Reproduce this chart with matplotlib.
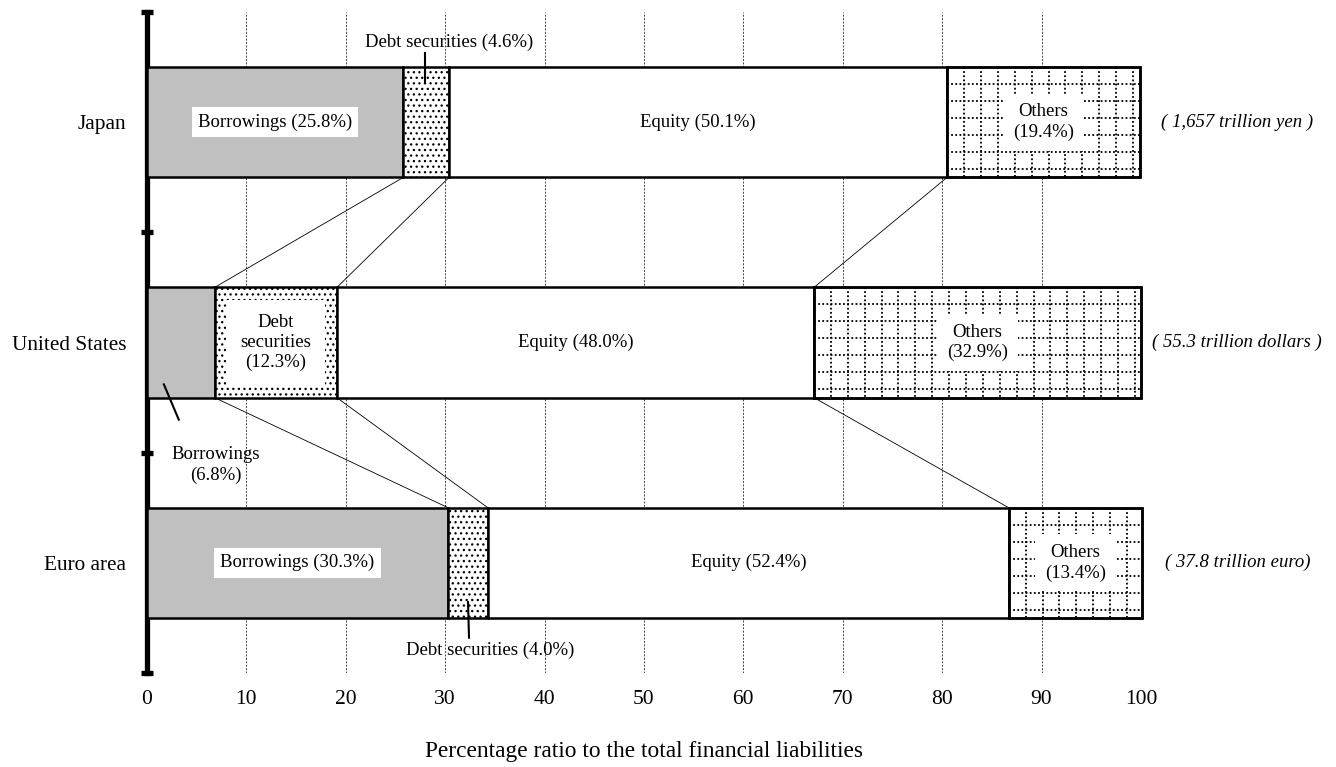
import matplotlib.pyplot as plt
import numpy as np
from matplotlib.patches import Rectangle

plt.rcParams["font.family"] = ["Liberation Serif", "DejaVu Serif"]
plt.rcParams["hatch.linewidth"] = 0.9

countries = ["Japan", "United States", "Euro area"]
borrowings = [25.8, 6.8, 30.3]
debt = [4.6, 12.3, 4.0]
equity = [50.1, 48.0, 52.4]
others = [19.4, 32.9, 13.4]
totals = ["( 1,657 trillion yen )", "( 55.3 trillion dollars )", "( 37.8 trillion euro)"]

H = 0.5
EW = 1.8

fig = plt.figure(figsize=(13.36, 7.67), dpi=100)
ax = fig.add_axes([0.110, 0.1226, 0.744, 0.8616])

y = np.arange(len(countries))
left1 = np.array(borrowings)
left2 = left1 + np.array(debt)
left3 = left2 + np.array(equity)

kw = dict(edgecolor="black", lw=EW, clip_on=False)
ax.barh(y, borrowings, H, color="#c0c0c0", zorder=3, **kw)
ax.barh(y, debt, H, left=left1, color="white", hatch="...", zorder=3, **kw)
ax.barh(y, equity, H, left=left2, color="white", zorder=3, **kw)
ax.barh(y, others, H, left=left3, color="white", zorder=3, **kw)
ax.barh(y, others, H, left=left3, color="none", zorder=4.5, **kw)

# dotted grid texture inside "Others"
for i in range(len(countries)):
    x0, w = left3[i], others[i]
    clip = Rectangle((x0, y[i] - H / 2), w, H, transform=ax.transData)
    for xx in np.arange(x0 + 1.7, x0 + w, 1.7):
        ln, = ax.plot([xx, xx], [y[i] - H / 2, y[i] + H / 2], color="black",
                      lw=1.3, ls=(0, (1, 1.3)), zorder=3.5)
        ln.set_clip_path(clip)
    for yy in np.arange(y[i] - H / 2 + 0.077, y[i] + H / 2, 0.077):
        ln, = ax.plot([x0, x0 + w], [yy, yy], color="black", lw=1.3,
                      ls=(0, (1, 1.3)), zorder=3.5)
        ln.set_clip_path(clip)

# connector lines between bars
bounds = [left1, left2, left3]
for i in range(len(countries) - 1):
    for b in bounds:
        ax.plot([b[i], b[i + 1]], [y[i] + H / 2, y[i + 1] - H / 2],
                color="black", lw=0.6, zorder=2)

fs = 13.5
box = dict(facecolor="white", edgecolor="none", pad=4.5)
obox = dict(facecolor="white", edgecolor="none", pad=7)

for i in range(len(countries)):
    ax.text(left2[i] + equity[i] / 2, y[i], f"Equity ({equity[i]:.1f}%)",
            ha="center", va="center", fontsize=fs, zorder=5)
    ax.text(left3[i] + others[i] / 2, y[i], f"Others\n({others[i]}%)",
            ha="center", va="center", fontsize=fs, bbox=obox, zorder=5,
            linespacing=1.25)

# Japan
ax.text(left1[0] / 2, 0, f"Borrowings ({borrowings[0]}%)", ha="center",
        va="center", fontsize=fs, bbox=box, zorder=5)
ax.text(30.4, -0.364, f"Debt securities ({debt[0]}%)", ha="center",
        va="center", fontsize=fs, zorder=5)
ax.plot([28.0, 28.0], [-0.314, -0.178], color="black", lw=1.5, zorder=5)

# United States
ax.text(left1[1] + debt[1] / 2, 1, f"Debt\nsecurities\n({debt[1]}%)", ha="center",
        va="center", fontsize=fs, linespacing=1.2, zorder=5,
        bbox=dict(facecolor="white", edgecolor="none", pad=10))
ax.text(6.9, 1.555, f"Borrowings\n({borrowings[1]}%)", ha="center",
        va="center", fontsize=fs, linespacing=1.25, zorder=5)
ax.plot([1.7, 3.2], [1.19, 1.35], color="black", lw=1.5, zorder=5)

# Euro area
ax.text(left1[2] / 2, 2, f"Borrowings ({borrowings[2]}%)", ha="center",
        va="center", fontsize=fs, bbox=box, zorder=5)
ax.text(34.5, 2.396, f"Debt securities ({debt[2]:.1f}%)", ha="center",
        va="center", fontsize=fs, zorder=5)
ax.plot([32.3, 32.4], [2.178, 2.34], color="black", lw=1.5, zorder=5)

for i, t in enumerate(totals):
    ax.text(109.7, y[i], t, ha="center", va="center", fontsize=fs,
            style="italic", clip_on=False)

ax.set_xlim(0, 100)
ax.set_ylim(2.5, -0.5)
ax.set_xticks(np.arange(0, 101, 10))
ax.tick_params(axis="x", length=0, labelsize=15.5, pad=12)
ax.set_yticks([-0.5, 0.5, 1.5, 2.5])
ax.set_yticklabels([])
ax.tick_params(axis="y", which="major", direction="inout", length=9, width=3.8)
ax.set_yticks(y, minor=True)
ax.set_yticklabels(countries, minor=True, fontsize=15.3)
ax.tick_params(axis="y", which="minor", length=0, pad=15)

for s in ["top", "right", "bottom"]:
    ax.spines[s].set_visible(False)
ax.spines["left"].set_linewidth(3.8)

ax.grid(axis="x", color="#444444", lw=0.7, ls=(0, (2, 1.5)), zorder=0)
ax.set_axisbelow(True)

ax.set_xlabel("Percentage ratio to the total financial liabilities", fontsize=16.8)
ax.xaxis.set_label_coords(0.5, -0.1195)
ax.xaxis.label.set_va("center")

fig.savefig("out.png", dpi=100)
